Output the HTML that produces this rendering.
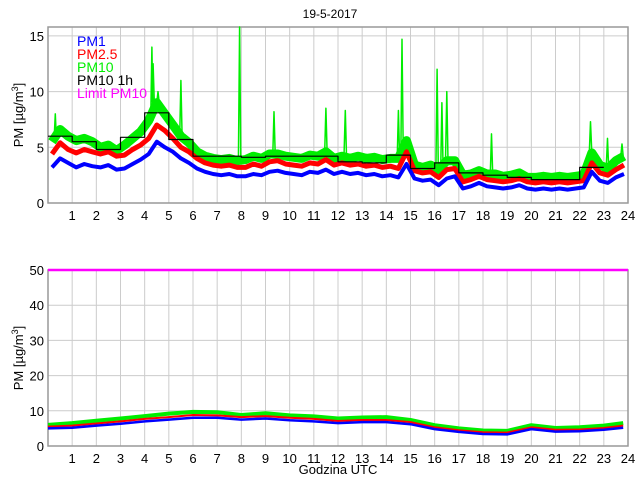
<!DOCTYPE html>
<html><head><meta charset="utf-8"><style>
body{margin:0;background:#fff}
svg{display:block;font-family:"Liberation Sans",sans-serif}
</style></head><body>
<svg id="chart" width="640" height="480" viewBox="0 0 640 480">
<rect width="640" height="480" fill="#fff"/>
<text x="330" y="18" font-size="12" text-anchor="middle">19-5-2017</text>
<g id="topPanel"></g><g id="botPanel"></g>
<text x="338" y="474" font-size="13" text-anchor="middle">Godzina UTC</text>
<g font-size="14">
<text x="77" y="46" fill="#0000ff">PM1</text>
<text x="77" y="59" fill="#ff0000">PM2.5</text>
<text x="77" y="72" fill="#00ee00">PM10</text>
<text x="77" y="85" fill="#000">PM10 1h</text>
<text x="77" y="98" fill="#ff00ff">Limit PM10</text>
</g>
</svg>
<script>
const hoursTicks=[1,2,3,4,5,6,7,8,9,10,11,12,13,14,15,16,17,18,19,20,21,22,23,24];
const topYTicks=[0,5,10,15];
const botYTicks=[0,10,20,30,40,50];
// top panel, 20-minute samples
const pm1Top=[3.2,4.0,3.6,3.2,3.5,3.3,3.2,3.4,3.0,3.1,3.5,3.9,4.4,5.5,5.0,4.6,4.0,3.6,3.1,2.8,2.6,2.5,2.6,2.4,2.4,2.6,2.5,2.8,2.9,2.7,2.6,2.5,2.8,2.7,3.0,2.6,2.8,2.6,2.7,2.5,2.6,2.4,2.5,2.3,3.5,2.2,2.0,2.1,1.6,2.2,2.4,1.3,1.5,1.8,1.5,1.4,1.3,1.4,1.6,1.3,1.2,1.3,1.2,1.3,1.2,1.3,1.4,2.8,2.0,1.8,2.3,2.6];
const pm25Top=[4.4,5.4,4.8,4.5,4.8,4.6,4.4,4.6,4.2,4.3,4.8,5.2,5.8,7.0,6.5,5.8,5.0,4.6,4.0,3.6,3.4,3.3,3.4,3.2,3.2,3.5,3.3,3.7,3.8,3.5,3.4,3.3,3.6,3.5,3.9,3.4,3.6,3.4,3.5,3.3,3.4,3.2,3.3,3.1,4.6,2.9,2.7,2.8,2.3,3.0,3.1,1.9,2.1,2.4,2.1,2.0,1.9,2.0,2.2,1.9,1.8,1.9,1.8,1.9,1.8,1.9,2.0,3.6,2.7,2.5,3.0,3.4];
const pm10Top=[5.5,6.6,6.0,5.6,5.8,5.5,5.0,5.2,4.7,5.2,5.8,6.4,7.4,9.0,8.0,7.0,6.0,5.4,4.6,4.2,4.0,3.9,4.0,3.8,3.9,4.2,4.0,4.4,4.4,4.2,4.1,4.0,4.3,4.2,4.6,4.0,4.2,4.0,4.2,4.0,4.1,3.9,4.0,4.0,5.6,3.4,3.2,3.4,3.0,3.8,3.8,2.5,2.6,2.9,2.6,2.6,2.4,2.5,2.7,2.3,2.3,2.4,2.3,2.4,2.3,2.4,2.5,4.5,3.4,3.1,3.8,4.2];
const spikeTimes=[0.3,4.3,4.35,4.55,5.5,7.93,9.35,11.5,12.3,14.5,14.65,16.1,16.3,16.5,18.35,22.45,23.15,23.75];
const spikeValues=[8.0,14.0,12.5,10.0,11.0,15.8,8.2,8.5,8.3,8.3,14.7,12.0,9.0,10.0,6.2,7.3,5.8,5.3];
const pm10Hourly=[6.0,5.5,4.8,5.9,8.1,5.7,4.2,4.2,4.1,4.2,4.2,4.2,3.7,3.6,4.3,3.1,3.6,2.7,2.5,2.3,2.1,2.1,3.2];
// bottom panel, hourly samples (last at 23.8)
const botTimes=[0,1,2,3,4,5,6,7,8,9,10,11,12,13,14,15,16,17,18,19,20,21,22,23,23.8];
const pm1Bot=[5.0,5.2,5.8,6.3,7.0,7.5,8.0,8.0,7.5,7.8,7.3,7.0,6.5,6.8,6.8,6.2,4.8,4.0,3.4,3.3,4.8,4.1,4.2,4.6,5.2];
const pm25Bot=[5.5,5.8,6.4,7.0,7.7,8.2,8.8,8.7,8.2,8.5,8.0,7.7,7.1,7.4,7.4,6.8,5.3,4.5,3.9,3.8,5.3,4.6,4.7,5.1,5.8];
const pm10Bot=[6.0,6.5,7.2,7.8,8.5,9.2,9.7,9.6,8.8,9.3,8.7,8.4,7.8,8.1,8.2,7.4,5.9,5.0,4.4,4.3,5.9,5.1,5.3,5.8,6.5];
const limitPM10=50;

const NS='http://www.w3.org/2000/svg';
const X0=48,X1=628;
function xs(h){return X0+(X1-X0)*h/24;}
function mk(tag,attrs,parent){const e=document.createElementNS(NS,tag);for(const k in attrs)e.setAttribute(k,attrs[k]);parent.appendChild(e);return e;}

function panel(g,yTop,yBot,ymax,yTicks,name){
  const ys=v=>yBot-(yBot-yTop)*v/ymax;
  hoursTicks.forEach(h=>{if(h<24){const l=mk('line',{x1:xs(h),x2:xs(h),y1:yTop,y2:yBot,stroke:'#cccccc','stroke-width':1},g);
    
    }
    const t=mk('text',{x:xs(h),y:yBot+17,'font-size':13,'text-anchor':'middle'},g);t.textContent=h;
    
    });
  yTicks.forEach(v=>{if(v>0){const l=mk('line',{x1:X0,x2:X1,y1:ys(v),y2:ys(v),stroke:'#cccccc','stroke-width':1},g);
    
    }
    const t=mk('text',{x:X0-4,y:ys(v)+5,'font-size':13,'text-anchor':'end'},g);t.textContent=v;
    
    });
  const b=mk('rect',{x:X0,y:yTop,width:X1-X0,height:yBot-yTop,fill:'none',stroke:'#999','stroke-width':1.5},g);
  
  
  const yl=mk('text',{transform:'translate(23,'+((yTop+yBot)/2)+') rotate(-90)','font-size':13,'text-anchor':'middle'},g);
  yl.appendChild(document.createTextNode('PM [µg/m'));
  const sup=mk('tspan',{dy:-5,'font-size':9},yl);sup.textContent='3';
  const cl=mk('tspan',{dy:5},yl);cl.textContent=']';
  
  
  return ys;
}
function line(g,pts,color,w,name){
  const p=mk('polyline',{points:pts.map(p=>p[0].toFixed(1)+','+p[1].toFixed(1)).join(' '),fill:'none',stroke:color,'stroke-width':w,'stroke-linejoin':'round'},g);
  
  
}
const topG=document.getElementById('topPanel'),botG=document.getElementById('botPanel');
const ysT=panel(topG,27,203,15.8,topYTicks,'top-panel');
const tT=i=>i/3+1/6;
function nearest(arr,t){let b=arr[0];arr.forEach(p=>{if(Math.abs(p[0]-t)<Math.abs(b[0]-t))b=p;});return b[1];}
const base10=pm10Top.map((v,i)=>[tT(i),v]);
line(topG,base10.map(p=>[xs(p[0]),ysT(p[1])]),'#00ee00',9,'pm10-line');
spikeTimes.forEach((t,i)=>{
  const nb=nearest(base10,t);
  line(topG,[[xs(t-0.05),ysT(nb)],[xs(t),ysT(spikeValues[i])],[xs(t+0.05),ysT(nb)]],'#00ee00',1.5,'pm10-spike');
});
line(topG,pm25Top.map((v,i)=>[xs(tT(i)),ysT(v)]),'#ff0000',5,'pm25-line');
line(topG,pm1Top.map((v,i)=>[xs(tT(i)),ysT(v)]),'#0000ff',4,'pm1-line');
let st=[];pm10Hourly.forEach((v,i)=>{st.push([xs(i),ysT(v)]);st.push([xs(i+1),ysT(v)]);});
line(topG,st,'#000',1.2,'pm10-1h-step');

const ysB=panel(botG,270,446,50,botYTicks,'bottom-panel');
line(botG,pm10Bot.map((v,i)=>[xs(botTimes[i]),ysB(v)]),'#00ee00',4,'pm10-avg-line');
line(botG,pm25Bot.map((v,i)=>[xs(botTimes[i]),ysB(v)]),'#ff0000',2,'pm25-avg-line');
line(botG,pm1Bot.map((v,i)=>[xs(botTimes[i]),ysB(v)]),'#0000ff',2.5,'pm1-avg-line');
line(botG,[[xs(0),ysB(limitPM10)],[xs(24),ysB(limitPM10)]],'#ff00ff',2.5,'limit-pm10-line');
</script>
</body></html>
